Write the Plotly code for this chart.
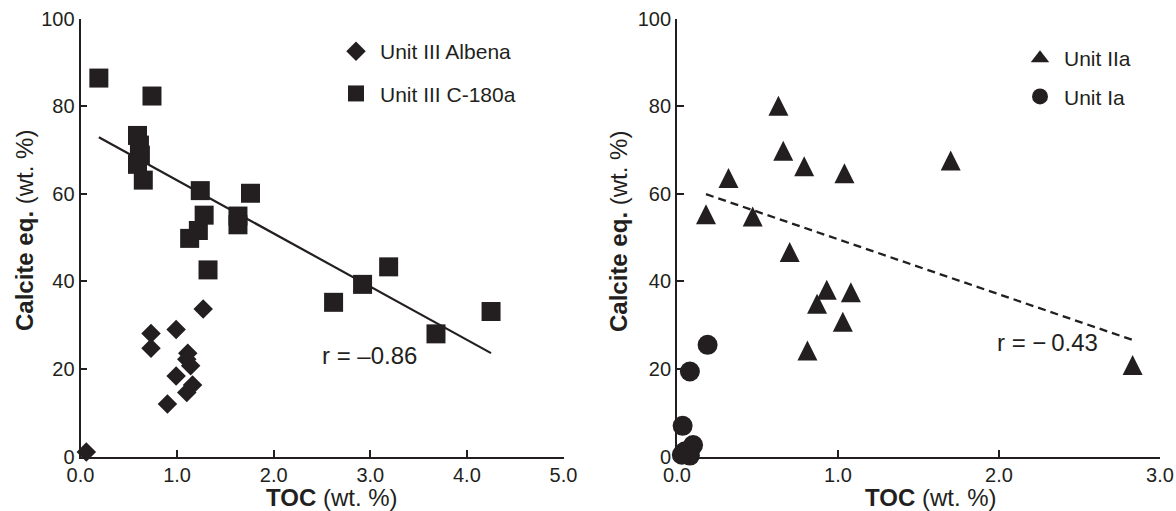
import plotly.graph_objects as go

# ---------------- data ----------------
# Left panel: Unit III Albena (diamonds)
albena_toc = [0.06, 1.27, 0.73, 0.99, 0.73, 1.11, 1.10, 1.14, 0.99, 1.16, 1.10, 0.90]
albena_cal = [1.0, 33.7, 28.1, 29.0, 24.7, 23.6, 22.2, 20.7, 18.4, 16.3, 14.6, 12.0]

# Left panel: Unit III C-180a (squares)
c180_toc = [0.19, 0.74, 0.59, 0.61, 0.62, 0.59, 0.65, 1.24, 1.76, 1.28, 1.22, 1.13,
            1.63, 1.63, 1.32, 3.19, 2.92, 2.62, 3.68, 4.25]
c180_cal = [86.4, 82.3, 73.3, 71.1, 68.8, 66.7, 63.1, 60.7, 60.1, 55.1, 51.6, 49.8,
            54.9, 52.9, 42.6, 43.3, 39.3, 35.2, 28.0, 33.1]

# Left regression line
fit_left_x = [0.19, 4.25]
fit_left_y = [72.9, 23.6]

# Right panel: Unit IIa (triangles)
u2a_toc = [0.63, 0.66, 0.79, 1.04, 1.70, 0.32, 0.18, 0.47, 0.70, 0.93, 1.08, 0.87, 1.03, 0.81, 2.83]
u2a_cal = [79.4, 69.1, 65.6, 64.0, 66.9, 62.9, 54.6, 54.1, 46.0, 37.4, 36.8, 34.2, 30.1, 23.5, 20.2]

# Right panel: Unit Ia (circles)
u1a_toc = [0.19, 0.08, 0.035, 0.10, 0.05, 0.08, 0.03]
u1a_cal = [25.5, 19.4, 7.0, 2.6, 1.2, 0.2, 0.4]

# Right regression line
fit_right_x = [0.18, 2.83]
fit_right_y = [59.9, 26.6]

y_ticks = [0, 20, 40, 60, 80, 100]
x_ticks_left = [0.0, 1.0, 2.0, 3.0, 4.0, 5.0]
x_ticks_right = [0.0, 1.0, 2.0, 3.0]

r_left = "r = \u20130.86"
r_right = "r = \u2212\u20090.43"
x_title = "<b>TOC</b> (wt. %)"
y_title = "<b>Calcite eq.</b> (wt. %)"

# ---------------- styling ----------------
W, H = 1176, 511
INK = "#231f20"
FONT = "Liberation Sans, Arial, Helvetica, sans-serif"


def px_x(p):
    """screen pixel -> paper fraction"""
    return p / W


def px_y(p):
    return 1 - p / H


fig = go.Figure()

fig.add_trace(go.Scatter(
    x=fit_left_x, y=fit_left_y, mode="lines", showlegend=False,
    line=dict(color=INK, width=2.2), xaxis="x", yaxis="y", cliponaxis=False))
fig.add_trace(go.Scatter(
    x=albena_toc, y=albena_cal, mode="markers", name="Unit III Albena",
    legend="legend", legendgroup="a",
    marker=dict(symbol="diamond", size=15, color=INK, line=dict(width=0)),
    xaxis="x", yaxis="y", cliponaxis=False))
fig.add_trace(go.Scatter(
    x=c180_toc, y=c180_cal, mode="markers", name="Unit III C-180a",
    legend="legend", legendgroup="b",
    marker=dict(symbol="square", size=19, color=INK, line=dict(width=0)),
    xaxis="x", yaxis="y", cliponaxis=False))

fig.add_trace(go.Scatter(
    x=fit_right_x, y=fit_right_y, mode="lines", showlegend=False,
    line=dict(color=INK, width=2.3, dash="8px,5px"), xaxis="x2", yaxis="y2", cliponaxis=False))
# triangles drawn as an upward-pointing isosceles marker centred on its centroid
fig.add_trace(go.Scatter(
    x=u2a_toc, y=u2a_cal, mode="markers", name="Unit IIa", showlegend=False,
    marker=dict(symbol="arrow-down", angle=180, standoff=13, size=20, color=INK, line=dict(width=0)),
    xaxis="x2", yaxis="y2", cliponaxis=False))
# legend entry for the triangles (no data points)
fig.add_trace(go.Scatter(
    x=[None], y=[None], mode="markers", name="Unit IIa",
    legend="legend2", legendgroup="c",
    marker=dict(symbol="triangle-up", size=18, color=INK, line=dict(width=0)),
    xaxis="x2", yaxis="y2"))
fig.add_trace(go.Scatter(
    x=u1a_toc, y=u1a_cal, mode="markers", name="Unit Ia",
    legend="legend2", legendgroup="d",
    marker=dict(symbol="circle", size=20, color=INK, line=dict(width=0)),
    xaxis="x2", yaxis="y2", cliponaxis=False))

axis_common = dict(
    showline=True, linecolor=INK, linewidth=1.8, mirror=False,
    ticks="inside", ticklen=7, tickwidth=1.8, tickcolor=INK,
    showgrid=False, zeroline=False, automargin=False, ticklabeloverflow="allow",
    tickfont=dict(family=FONT, size=20, color=INK),
)

ydom = [px_y(456.5), px_y(18.5)]

fig.update_layout(
    width=W, height=H,
    margin=dict(l=0, r=0, t=0, b=0, autoexpand=False),
    paper_bgcolor="white", plot_bgcolor="white",
    font=dict(family=FONT, color=INK),
    xaxis=dict(domain=[px_x(80.5), px_x(563.5)], range=[0, 5], tickvals=x_ticks_left,
               tickformat=".1f", anchor="y", **axis_common),
    yaxis=dict(domain=ydom, range=[0, 100], tickvals=y_ticks, anchor="x", **axis_common),
    xaxis2=dict(domain=[px_x(677), px_x(1160)], range=[0, 3], tickvals=x_ticks_right,
                tickformat=".1f", anchor="y2", **axis_common),
    yaxis2=dict(domain=ydom, range=[0, 100], tickvals=y_ticks, anchor="x2", **axis_common),
    legend=dict(x=px_x(332), y=px_y(31), xanchor="left", yanchor="top",
                bgcolor="rgba(0,0,0,0)", font=dict(family=FONT, size=21, color=INK),
                itemwidth=38, tracegroupgap=12, traceorder="grouped"),
    legend2=dict(x=px_x(1016), y=px_y(38), xanchor="left", yanchor="top",
                 bgcolor="rgba(0,0,0,0)", font=dict(family=FONT, size=21, color=INK),
                 itemwidth=38, tracegroupgap=8, traceorder="grouped"),
    showlegend=True,
)

ann_font = dict(family=FONT, size=24, color=INK)
annotations = [
    dict(text=x_title, x=px_x(332), y=px_y(497), xanchor="center", yanchor="middle", font=ann_font),
    dict(text=x_title, x=px_x(931), y=px_y(497), xanchor="center", yanchor="middle", font=ann_font),
    dict(text=y_title, x=px_x(24), y=px_y(231), xanchor="center", yanchor="middle",
         textangle=-90, font=ann_font),
    dict(text=y_title, x=px_x(618), y=px_y(232), xanchor="center", yanchor="middle",
         textangle=-90, font=ann_font),
    dict(text=r_left, x=px_x(320), y=px_y(355), xanchor="left", yanchor="middle",
         font=dict(family=FONT, size=24, color=INK)),
    dict(text=r_right, x=px_x(995), y=px_y(342), xanchor="left", yanchor="middle",
         font=dict(family=FONT, size=24, color=INK)),
]
for a in annotations:
    a.update(xref="paper", yref="paper", showarrow=False)
fig.update_layout(annotations=annotations)

# remove the browser's default page margin so the figure fills the window exactly
fig.write_html("out.html", config={"displayModeBar": False},
               post_script="document.body.style.margin='0';")
